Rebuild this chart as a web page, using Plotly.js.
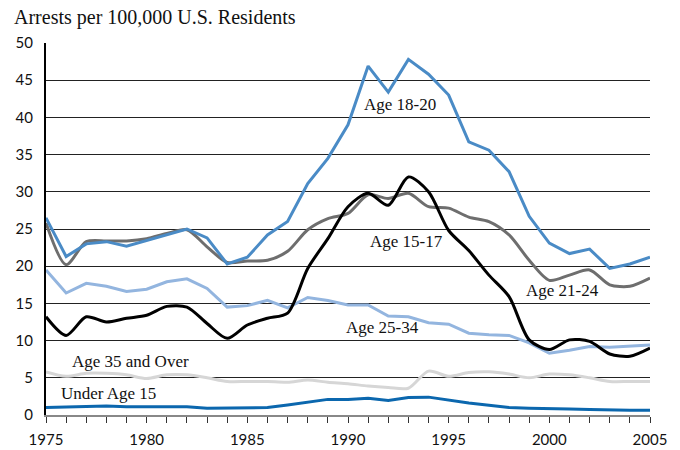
<!DOCTYPE html>
<html>
<head>
<meta charset="utf-8">
<script src="https://cdn.plot.ly/plotly-3.0.1.min.js"></script>
<style>body{margin:0;padding:0;background:#fff}#chart{width:680px;height:450px}</style>
</head>
<body>
<div id="chart"></div>
<script>
const years = [1975,1976,1977,1978,1979,1980,1981,1982,1983,1984,1985,1986,1987,1988,1989,1990,1991,1992,1993,1994,1995,1996,1997,1998,1999,2000,2001,2002,2003,2004,2005];
const age18_20 = [26.5,21.3,23.0,23.3,22.7,23.5,24.3,25.0,23.8,20.3,21.2,24.2,26.0,31.1,34.5,39.0,46.9,43.4,47.8,45.8,43.0,36.7,35.6,32.7,26.7,23.1,21.7,22.3,19.7,20.3,21.2];
const age15_17 = [13.2,10.7,13.2,12.5,13.0,13.4,14.6,14.5,12.3,10.3,12.1,13.0,13.7,19.7,23.7,28.0,29.8,28.2,32.0,30.0,24.8,22.1,18.8,15.9,10.1,8.8,10.1,9.9,8.2,7.9,9.0];
const age21_24 = [25.8,20.2,23.3,23.4,23.4,23.7,24.4,24.9,22.6,20.5,20.7,20.8,22.0,24.9,26.4,27.1,29.6,29.1,29.8,28.0,27.8,26.6,26.0,24.2,20.8,18.1,18.8,19.5,17.5,17.3,18.4];
const age25_34 = [19.5,16.4,17.7,17.3,16.6,16.9,17.9,18.3,17.0,14.5,14.7,15.4,14.4,15.8,15.4,14.8,14.8,13.3,13.2,12.4,12.2,11.0,10.8,10.7,9.7,8.3,8.7,9.2,9.1,9.2,9.4];
const age35plus = [5.8,5.2,5.6,5.6,5.4,4.9,5.4,5.4,5.0,4.5,4.5,4.5,4.4,4.7,4.4,4.2,3.9,3.7,3.6,5.9,5.2,5.7,5.8,5.5,5.0,5.5,5.4,5.0,4.5,4.5,4.5];
const under15 = [1.0,1.1,1.2,1.2,1.1,1.1,1.1,1.1,0.9,0.9,1.0,1.0,1.35,1.7,2.1,2.1,2.25,1.95,2.35,2.4,1.95,1.6,1.3,1.0,0.9,0.8,0.8,0.75,0.65,0.65,0.65];

const seriesNames = ["Age 18-20","Age 15-17","Age 21-24","Age 25-34","Age 35 and Over","Under Age 15"];
const labelX = [1992.6,1992.9,2000.65,1991.7,1979.2,1978.1];
const labelY = [41.8,23.3,16.7,11.8,7.2,2.9];

const serif = "Liberation Serif, Times New Roman, serif";
const tickFont = "Lato, Open Sans, sans-serif";

function tr(y, color, shape){
  return {x: years, y: y, type:'scatter', mode:'lines', line:{color:color, width:3, shape:shape, smoothing:0.8}, hoverinfo:'skip'};
}
const data = [
  tr(age35plus,'#d6d6d6','spline'),
  tr(under15,'#0b67ae','linear'),
  tr(age25_34,'#93b5df','linear'),
  tr(age21_24,'#6e6e6e','spline'),
  tr(age15_17,'#000000','spline'),
  tr(age18_20,'#4a8bc6','linear')
];

const annotations = seriesNames.map((n,i)=>({x:labelX[i], y:labelY[i], xref:'x', yref:'y', text:n, showarrow:false, font:{family:serif, size:17, color:'#111'}}));
annotations.push({x:0, y:1, xref:'paper', yref:'paper', xshift:-34, yshift:26, xanchor:'left', yanchor:'middle', text:'Arrests per 100,000 U.S. Residents', showarrow:false, font:{family:serif, size:20, color:'#111'}});

const layout = {
  width:680, height:450,
  margin:{l:46, r:30, t:43, b:35},
  paper_bgcolor:'#fff', plot_bgcolor:'#fff',
  showlegend:false,
  xaxis:{range:[1975,2005], tickvals:[1975,1980,1985,1990,1995,2000,2005], ticks:'outside', ticklen:6, tickcolor:'#333', tickwidth:1,
    minor:{dtick:1, tick0:1975, ticks:'outside', ticklen:6, tickcolor:'#333', tickwidth:1, showgrid:false},
    showline:true, linecolor:'#888', linewidth:2, showgrid:false, zeroline:false, ticklabelstandoff:4,
    tickfont:{family:tickFont, size:15, color:'#111'}, fixedrange:true},
  yaxis:{range:[0,50], dtick:5, showgrid:true, gridcolor:'#222', gridwidth:1, showline:true, linecolor:'#000', linewidth:2,
    zeroline:false, ticks:'outside', ticklen:8, tickcolor:'rgba(0,0,0,0)', tickfont:{family:tickFont, size:15, color:'#111'}, fixedrange:true},
  annotations: annotations
};
Plotly.newPlot('chart', data, layout, {displayModeBar:false, staticPlot:true});
</script>
</body>
</html>
